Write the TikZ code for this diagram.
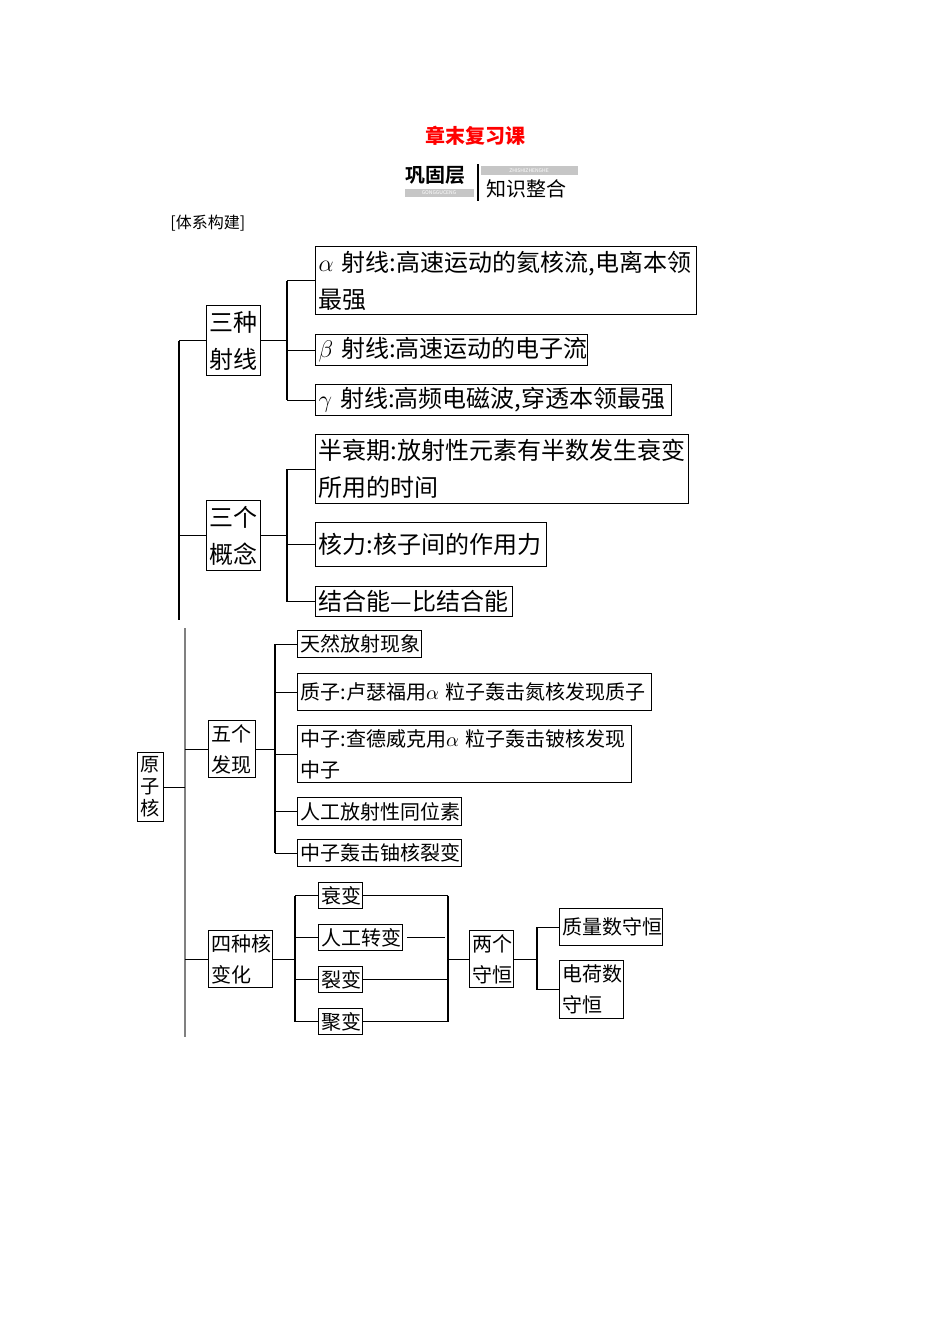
\documentclass[tikz,border=0pt]{standalone}
\usepackage{fontspec}
\setmainfont{Noto Sans CJK SC}
\newfontfamily\hei{Noto Sans CJK SC Bold}
\begin{document}
\begin{tikzpicture}[x=0.5pt,y=-0.5pt,
  bx/.style={draw,line width=0.6pt,anchor=north west,inner xsep=1.5pt,inner ysep=0pt,align=left},
  big/.style={font=\fontsize{12pt}{18.5pt}\selectfont},
  sm/.style={font=\fontsize{10pt}{15.5pt}\selectfont},
  ln/.style={line width=0.6pt}]
\useasboundingbox (0,0) rectangle (950,1344);
% header
\node[text=red,font=\bfseries\fontsize{10pt}{12pt}\selectfont] (title) at (475,136) {章末复习课};
\node[font=\hei\fontsize{10pt}{12pt}\selectfont,anchor=west,inner sep=0] (gg) at (405,175) {巩固层};
\fill[gray!45] (405,189) rectangle (474,197);
\node[white,font=\fontsize{2.5pt}{3pt}\selectfont,inner sep=0] (gn) at (439,193) {GONGGUCENG};
\fill[gray!45] (481,166) rectangle (578,175);
\node[white,font=\fontsize{2.5pt}{3pt}\selectfont,inner sep=0] (zn) at (529,170.5) {ZHISHIZHENGHE};
\draw[ln] (478,164) -- (478,201);
\node[font=\fontsize{10pt}{12pt}\selectfont,anchor=west,inner sep=0] (zs) at (486,189) {知识整合};
\node[font=\fontsize{8pt}{10pt}\selectfont,anchor=west,inner sep=0] (tx) at (170,223) {[体系构建]};
% upper part
\node[bx,big,text width=24pt,minimum height=35pt] (sz) at (206,305) {三种\\射线};
\node[bx,big,text width=187.5pt,minimum height=34pt] (a) at (315,246) {$\alpha$~射线:高速运动的氦核流,电离本领\\最强};
\node[bx,big,text width=133pt,minimum height=15.5pt] (b) at (315,334) {$\beta$~射线:高速运动的电子流};
\node[bx,big,text width=175pt,minimum height=15.5pt] (g) at (315,384) {$\gamma$~射线:高频电磁波,穿透本领最强};
\node[bx,big,text width=24pt,minimum height=35pt] (sg) at (206,500) {三个\\概念};
\node[bx,big,text width=183.5pt,minimum height=34.5pt] (h) at (315,434) {半衰期:放射性元素有半数发生衰变\\所用的时间};
\node[bx,big,text width=112.5pt,minimum height=22pt] (k) at (315,522) {核力:核子间的作用力};
\node[bx,big,text width=95.5pt,minimum height=15pt] (j) at (315,586) {结合能—比结合能};
\draw[ln] (sz.east) -- (sz.east -| 287,0);
\draw[ln] (a.west -| 287,0) -- (g.west -| 287,0);
\foreach \n in {a,b,g}{\draw[ln] (\n.west -| 287,0) -- (\n.west);}
\draw[ln] (sg.east) -- (sg.east -| 287,0);
\draw[ln] (h.west -| 287,0) -- (j.west -| 287,0);
\foreach \n in {h,k,j}{\draw[ln] (\n.west -| 287,0) -- (\n.west);}
\draw[ln] (sz.west -| 179,0) -- (179,620);
\draw[ln] (sz.west -| 179,0) -- (sz.west);
\draw[ln] (sg.west -| 179,0) -- (sg.west);
% lower part
\node[bx,sm,text width=10pt,minimum height=34.5pt,font=\fontsize{9.6pt}{11pt}\selectfont,inner ysep=1pt] (yz) at (137,752) {原\\子\\核};
\draw[ln,gray] (185,628) -- (185,1037);
\draw[ln] (yz.east) -- (yz.east -| 185,0);
\node[bx,sm,text width=20.5pt,minimum height=28.5pt] (wg) at (208,720) {五个\\发现};
\draw[ln] (wg.west -| 185,0) -- (wg.west);
\draw[ln] (wg.east) -- (wg.east -| 275,0);
\node[bx,sm,text width=59pt,minimum height=13.5pt] (f1) at (297,630) {天然放射现象};
\node[bx,sm,text width=174pt,minimum height=18.5pt] (f2) at (297,673) {质子:卢瑟福用$\alpha$~粒子轰击氮核发现质子};
\node[bx,sm,text width=164pt,minimum height=28.5pt] (f3) at (297,725) {中子:查德威克用$\alpha$~粒子轰击铍核发现\\中子};
\node[bx,sm,text width=79pt,minimum height=14pt] (f4) at (297,797) {人工放射性同位素};
\node[bx,sm,text width=79pt,minimum height=13.5pt] (f5) at (297,839) {中子轰击铀核裂变};
\draw[ln] (f1.west -| 275,0) -- (f5.west -| 275,0);
\foreach \n in {f1,f2,f3,f4,f5}{\draw[ln] (\n.west -| 275,0) -- (\n.west);}
\node[bx,sm,text width=29pt,minimum height=28.5pt] (sh) at (208,930) {四种核\\变化};
\draw[ln] (sh.west -| 185,0) -- (sh.west);
\draw[ln] (sh.east) -- (sh.east -| 295,0);
\node[bx,sm,text width=19pt,minimum height=13pt] (c1) at (318,882) {衰变};
\node[bx,sm,text width=39pt,minimum height=13pt] (c2) at (318,924) {人工转变};
\node[bx,sm,text width=19pt,minimum height=13pt] (c3) at (318,966) {裂变};
\node[bx,sm,text width=19pt,minimum height=13pt] (c4) at (318,1008) {聚变};
\draw[ln] (c1.west -| 295,0) -- (c4.west -| 295,0);
\foreach \n in {c1,c2,c3,c4}{\draw[ln] (\n.west -| 295,0) -- (\n.west);}
\draw[ln] (c1.east) -- (c1.east -| 448,0);
\draw[ln] ([xshift=2pt]c2.east) -- (c2.east -| 445,0);
\draw[ln] (c3.east) -- (c3.east -| 448,0);
\draw[ln] (c4.east) -- (c4.east -| 448,0);
\draw[ln] (c1.east -| 448,0) -- (c4.east -| 448,0);
\node[bx,sm,text width=19pt,minimum height=28.5pt] (lg) at (469,930) {两个\\守恒};
\draw[ln] (lg.west -| 448,0) -- (lg.west);
\draw[ln] (lg.east) -- (lg.east -| 537,0);
\node[bx,sm,text width=48.5pt,minimum height=18.5pt] (d1) at (559,908) {质量数守恒};
\node[bx,sm,text width=29pt,minimum height=29pt] (d2) at (559,960) {电荷数\\守恒};
\draw[ln] (d1.west -| 537,0) -- (d2.west -| 537,0);
\draw[ln] (d1.west -| 537,0) -- (d1.west);
\draw[ln] (d2.west -| 537,0) -- (d2.west);
\end{tikzpicture}
\end{document}
